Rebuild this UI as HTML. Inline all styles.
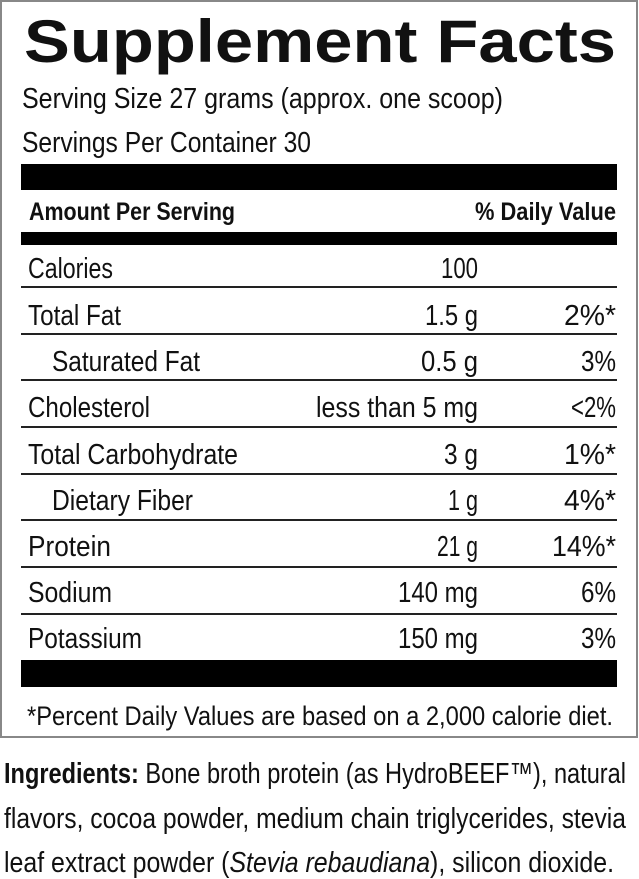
<!DOCTYPE html>
<html><head><meta charset="utf-8"><style>
html,body{margin:0;padding:0;background:#fff;}
svg{display:block;}
text{font-family:"Liberation Sans",sans-serif;fill:#111;}
.b{font-weight:bold;}
</style></head><body>
<svg width="639" height="879" viewBox="0 0 639 879" xmlns="http://www.w3.org/2000/svg">
<rect x="1" y="1" width="636" height="736" fill="none" stroke="#888" stroke-width="2"/>
<text x="24" y="62" font-size="60" class="b" textLength="592" lengthAdjust="spacingAndGlyphs">Supplement Facts</text>
<text x="22" y="108" font-size="29" textLength="481" lengthAdjust="spacingAndGlyphs">Serving Size 27 grams (approx. one scoop)</text>
<text x="22" y="152" font-size="29" textLength="289" lengthAdjust="spacingAndGlyphs">Servings Per Container 30</text>
<rect x="21" y="164" width="596" height="26" fill="#000"/>
<text x="29" y="220" font-size="25" class="b" textLength="206" lengthAdjust="spacingAndGlyphs">Amount Per Serving</text>
<text x="475" y="220" font-size="25" class="b" textLength="141" lengthAdjust="spacingAndGlyphs">% Daily Value</text>
<rect x="21" y="232" width="596" height="13" fill="#000"/>
<g font-size="29">
<text x="28" y="278" textLength="85" lengthAdjust="spacingAndGlyphs">Calories</text>
<text x="441" y="278" textLength="37" lengthAdjust="spacingAndGlyphs">100</text>
<text x="28" y="325" textLength="93" lengthAdjust="spacingAndGlyphs">Total Fat</text>
<text x="425" y="325" textLength="53" lengthAdjust="spacingAndGlyphs">1.5 g</text>
<text x="564" y="325" textLength="52" lengthAdjust="spacingAndGlyphs">2%*</text>
<text x="52" y="371" textLength="148" lengthAdjust="spacingAndGlyphs">Saturated Fat</text>
<text x="421" y="371" textLength="57" lengthAdjust="spacingAndGlyphs">0.5 g</text>
<text x="581" y="371" textLength="35" lengthAdjust="spacingAndGlyphs">3%</text>
<text x="28" y="417" textLength="122" lengthAdjust="spacingAndGlyphs">Cholesterol</text>
<text x="316" y="417" textLength="162" lengthAdjust="spacingAndGlyphs">less than 5 mg</text>
<text x="571" y="417" textLength="45" lengthAdjust="spacingAndGlyphs">&lt;2%</text>
<text x="28" y="464" textLength="210" lengthAdjust="spacingAndGlyphs">Total Carbohydrate</text>
<text x="444" y="464" textLength="34" lengthAdjust="spacingAndGlyphs">3 g</text>
<text x="564" y="464" textLength="52" lengthAdjust="spacingAndGlyphs">1%*</text>
<text x="52" y="510" textLength="141" lengthAdjust="spacingAndGlyphs">Dietary Fiber</text>
<text x="448" y="510" textLength="30" lengthAdjust="spacingAndGlyphs">1 g</text>
<text x="564" y="510" textLength="52" lengthAdjust="spacingAndGlyphs">4%*</text>
<text x="28" y="556" textLength="83" lengthAdjust="spacingAndGlyphs">Protein</text>
<text x="437" y="556" textLength="41" lengthAdjust="spacingAndGlyphs">21 g</text>
<text x="552" y="556" textLength="64" lengthAdjust="spacingAndGlyphs">14%*</text>
<text x="28" y="602" textLength="84" lengthAdjust="spacingAndGlyphs">Sodium</text>
<text x="398" y="602" textLength="80" lengthAdjust="spacingAndGlyphs">140 mg</text>
<text x="581" y="602" textLength="35" lengthAdjust="spacingAndGlyphs">6%</text>
<text x="28" y="648" textLength="114" lengthAdjust="spacingAndGlyphs">Potassium</text>
<text x="398" y="648" textLength="80" lengthAdjust="spacingAndGlyphs">150 mg</text>
<text x="581" y="648" textLength="35" lengthAdjust="spacingAndGlyphs">3%</text>
</g>
<g fill="#222">
<rect x="21" y="286" width="596" height="2"/>
<rect x="21" y="333" width="596" height="2"/>
<rect x="21" y="379" width="596" height="2"/>
<rect x="21" y="426" width="596" height="2"/>
<rect x="21" y="473" width="596" height="2"/>
<rect x="21" y="519" width="596" height="2"/>
<rect x="21" y="566" width="596" height="2"/>
<rect x="21" y="613" width="596" height="2"/>
</g>
<rect x="21" y="660" width="596" height="27" fill="#000"/>
<text x="27" y="725" font-size="27" textLength="586" lengthAdjust="spacingAndGlyphs">*Percent Daily Values are based on a 2,000 calorie diet.</text>
<g font-size="29">
<text x="4" y="783" textLength="622" lengthAdjust="spacingAndGlyphs"><tspan class="b">Ingredients:</tspan> Bone broth protein (as HydroBEEF™), natural</text>
<text x="4" y="828" textLength="622" lengthAdjust="spacingAndGlyphs">flavors, cocoa powder, medium chain triglycerides, stevia</text>
<text x="4" y="872" textLength="610" lengthAdjust="spacingAndGlyphs">leaf extract powder (<tspan font-style="italic">Stevia rebaudiana</tspan>), silicon dioxide.</text>
</g>
</svg>
</body></html>
